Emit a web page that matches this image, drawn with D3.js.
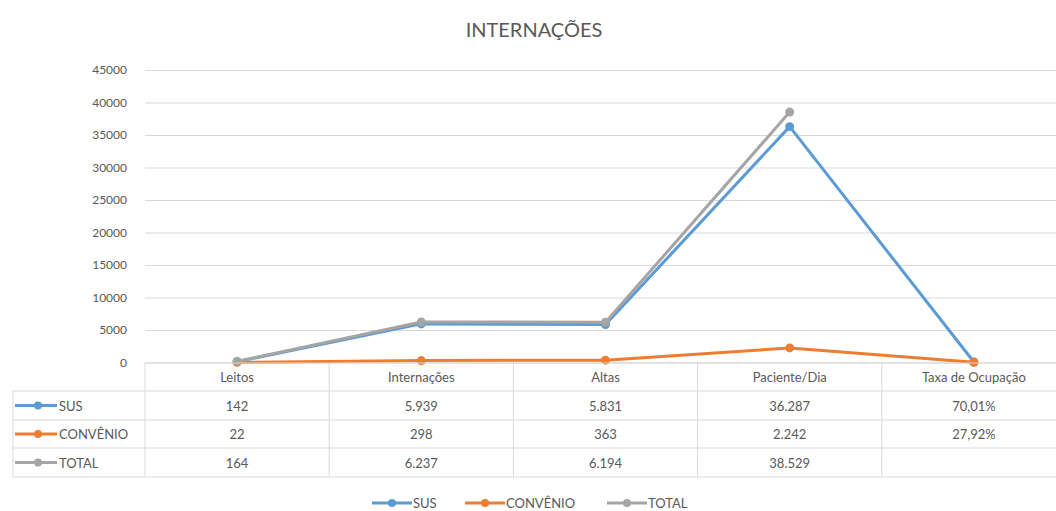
<!DOCTYPE html>
<html>
<head>
<meta charset="utf-8">
<script src="https://cdn.jsdelivr.net/npm/d3@7"></script>
<style>
  body { margin: 0; background: #fff; }
  text { font-family: Lato, "Open Sans", sans-serif; fill: #595959; }
</style>
</head>
<body>
<svg id="chart" width="1056" height="511"></svg>
<script>
let categories = ['Leitos', 'Internações', 'Altas', 'Paciente/Dia', 'Taxa de Ocupação']
let seriesNames = ['SUS', 'CONVÊNIO', 'TOTAL']
let susValues = [142, 5939, 5831, 36287, 70.01]
let convenioValues = [22, 298, 363, 2242, 27.92]
let totalValues = [164, 6237, 6194, 38529, null]
let susLabels = ['142', '5.939', '5.831', '36.287', '70,01%']
let convenioLabels = ['22', '298', '363', '2.242', '27,92%']
let totalLabels = ['164', '6.237', '6.194', '38.529', '']
let yTicks = [0, 5000, 10000, 15000, 20000, 25000, 30000, 35000, 40000, 45000]
let colors = ['#5b9bd5', '#ed7d31', '#a5a5a5']

let series = [
  { name: seriesNames[0], values: susValues, labels: susLabels, color: colors[0] },
  { name: seriesNames[1], values: convenioValues, labels: convenioLabels, color: colors[1] },
  { name: seriesNames[2], values: totalValues, labels: totalLabels, color: colors[2] }
]

let svg = d3.select('#chart')

let x = d3.scaleBand()
  .domain(categories)
  .range([145, 1066])

let y = d3.scaleLinear()
  .domain([0, 45000])
  .range([362.5, 70])

// title
svg.append('text')
  .attr('x', 534)
  .attr('y', 37)
  .attr('text-anchor', 'middle')
  .style('font-size', '20px')
  .text('INTERNAÇÕES')

// gridlines + y labels
let yAxis = d3.axisLeft(y)
  .tickValues(yTicks)
  .tickSize(-(1056 - 145))
  .tickPadding(18)
  .tickFormat(d3.format('d'))

let gy = svg.append('g')
  .attr('transform', 'translate(145,0)')
  .call(yAxis)
gy.select('.domain').remove()
gy.selectAll('line').attr('stroke', '#d9d9d9')
gy.selectAll('text')
  .style('font-size', '12px')
  .style('font-family', 'Lato, sans-serif')
  .attr('fill', '#595959')

// lines (TOTAL drawn last, on top)
let line = d3.line()
  .defined((d) => d != null)
  .x((d, i) => x(categories[i]) + x.bandwidth() / 2)
  .y((d) => y(d))

series.forEach((s, k) => {
  svg.append('path')
    .datum(s.values)
    .attr('fill', 'none')
    .attr('stroke', s.color)
    .attr('stroke-width', 3)
    .attr('stroke-linejoin', 'round')
    .attr('d', line)

  svg.selectAll('.pt' + k)
    .data(s.values.map((v, i) => ({ v: v, c: categories[i] })).filter((d) => d.v != null))
    .enter()
    .append('circle')
    .attr('cx', (d) => x(d.c) + x.bandwidth() / 2)
    .attr('cy', (d) => y(d.v))
    .attr('r', 4.5)
    .attr('fill', s.color)
})

// data table
let rowTops = [363, 391, 420, 448, 477]
let tableLeft = 13
let grid = svg.append('g').attr('stroke', '#d9d9d9').attr('stroke-width', 1)

grid.append('line')
  .attr('x1', 145).attr('x2', 1056)
  .attr('y1', rowTops[0]).attr('y2', rowTops[0])
rowTops.slice(1).forEach((ry) => {
  grid.append('line')
    .attr('x1', tableLeft).attr('x2', 1056)
    .attr('y1', ry).attr('y2', ry)
})
grid.append('line')
  .attr('x1', tableLeft).attr('x2', tableLeft)
  .attr('y1', rowTops[1]).attr('y2', rowTops[4])
categories.forEach((c) => {
  grid.append('line')
    .attr('x1', x(c)).attr('x2', x(c))
    .attr('y1', rowTops[0]).attr('y2', rowTops[4])
})

// header
svg.selectAll('.hdr')
  .data(categories)
  .enter()
  .append('text')
  .attr('x', (c) => x(c) + x.bandwidth() / 2)
  .attr('y', (rowTops[0] + rowTops[1]) / 2 + 5)
  .attr('text-anchor', 'middle')
  .style('font-size', '13px')
  .text((c) => c)

series.forEach((s, k) => {
  let cy = (rowTops[k + 1] + rowTops[k + 2]) / 2
  // key
  svg.append('line')
    .attr('x1', 15).attr('x2', 57)
    .attr('y1', cy).attr('y2', cy)
    .attr('stroke', s.color).attr('stroke-width', 3)
  svg.append('circle')
    .attr('cx', 38).attr('cy', cy).attr('r', 4)
    .attr('fill', s.color)
  svg.append('text')
    .attr('x', 59).attr('y', cy + 5)
    .style('font-size', '13px')
    .text(s.name)

  svg.selectAll('.cell' + k)
    .data(s.labels)
    .enter()
    .append('text')
    .attr('x', (d, i) => x(categories[i]) + x.bandwidth() / 2)
    .attr('y', cy + 5)
    .attr('text-anchor', 'middle')
    .style('font-size', '13px')
    .text((d) => d)
})

// legend
let legendX = [372, 465, 607]
series.forEach((s, k) => {
  let lx = legendX[k]
  svg.append('line')
    .attr('x1', lx).attr('x2', lx + 40)
    .attr('y1', 503).attr('y2', 503)
    .attr('stroke', s.color).attr('stroke-width', 3)
  svg.append('circle')
    .attr('cx', lx + 20).attr('cy', 503).attr('r', 4)
    .attr('fill', s.color)
  svg.append('text')
    .attr('x', lx + 41).attr('y', 508)
    .style('font-size', '13px')
    .text(s.name)
})
</script>
</body>
</html>
